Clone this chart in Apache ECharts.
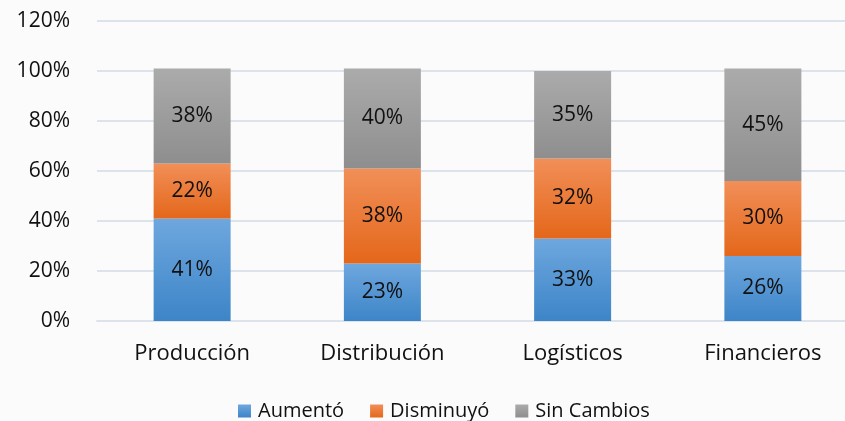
<!DOCTYPE html>
<html>
<head>
<meta charset="utf-8">
<script src="https://cdn.jsdelivr.net/npm/echarts@6/dist/echarts.min.js"></script>
<style>
  html, body { margin: 0; padding: 0; background: #fcfbfb; }
  #chart { width: 845px; height: 421px; }
</style>
</head>
<body>
<div id="chart"></div>
<script>
var categories = ['Producción', 'Distribución', 'Logísticos', 'Financieros'];
var aumento = [41, 23, 33, 26];
var disminuyo = [22, 38, 32, 30];
var sinCambios = [38, 40, 35, 45];
var yTicks = [0, 20, 40, 60, 80, 100, 120];

var font = '"Open Sans", "Liberation Sans", sans-serif';

function grad(top, bottom) {
    return new echarts.graphic.LinearGradient(0, 0, 0, 1, [
        { offset: 0, color: top },
        { offset: 1, color: bottom }
    ]);
}

var labelStyle = {
    show: true,
    position: 'inside',
    formatter: '{c}%',
    color: '#111',
    fontSize: 21,
    fontFamily: font
};

var myChart = echarts.init(document.getElementById('chart'));
var option = {
    backgroundColor: '#fcfbfb',
    animation: false,
    grid: {
        left: 97,
        top: 21,
        width: 761,
        height: 300,
        outerBoundsMode: 'none',
        containLabel: false
    },
    legend: {
        top: 396,
        left: 233,
        itemWidth: 13,
        itemHeight: 13,
        itemGap: 26,
        icon: 'rect',
        textStyle: { fontSize: 20, color: '#111', fontFamily: font, padding: [0, 0, 0, 2] },
        data: ['Aumentó', 'Disminuyó', 'Sin Cambios']
    },
    xAxis: {
        type: 'category',
        data: categories,
        axisLine: { show: true, lineStyle: { color: '#dde3ea', width: 2 } },
        axisTick: { show: false },
        axisLabel: { fontSize: 22, color: '#111', margin: 22, fontFamily: font }
    },
    yAxis: {
        type: 'value',
        min: yTicks[0],
        max: yTicks[yTicks.length - 1],
        interval: 20,
        axisLine: { show: false },
        axisTick: { show: false },
        splitLine: { lineStyle: { color: '#dde3ea', width: 2 } },
        axisLabel: { fontSize: 21, color: '#111', margin: 27, fontFamily: font, formatter: '{value}%' }
    },
    series: [{
        name: 'Aumentó',
        type: 'bar',
        stack: 'total',
        barWidth: 77,
        data: aumento,
        itemStyle: { color: grad('#6ea7de', '#3d85c8') },
        label: labelStyle
    }, {
        name: 'Disminuyó',
        type: 'bar',
        stack: 'total',
        data: disminuyo,
        itemStyle: { color: grad('#f18f58', '#e4671a') },
        label: labelStyle
    }, {
        name: 'Sin Cambios',
        type: 'bar',
        stack: 'total',
        data: sinCambios,
        itemStyle: { color: grad('#ababab', '#8e8e8e') },
        label: labelStyle
    }]
};

myChart.setOption(option);
</script>
</body>
</html>
